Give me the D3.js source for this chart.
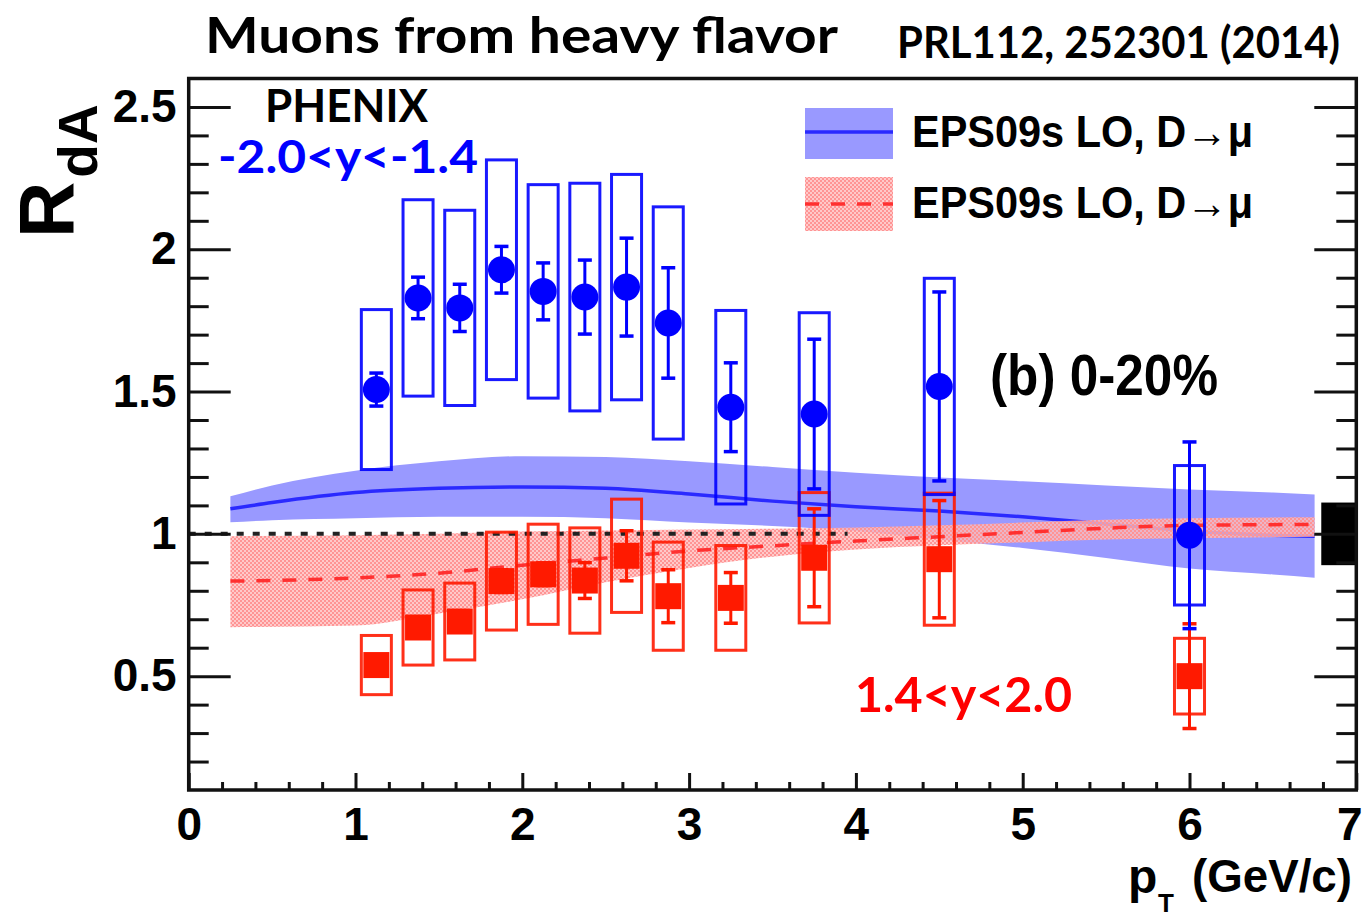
<!DOCTYPE html>
<html>
<head>
<meta charset="utf-8">
<script src="https://cdn.jsdelivr.net/npm/d3@7"></script>
<style>
  html, body { margin: 0; padding: 0; background: #fff; }
  svg { display: block; }
  text { font-family: "Liberation Sans", Arial, sans-serif; font-weight: bold; }
  .geo { font-family: Lato, "Open Sans", sans-serif; font-weight: bold; }
</style>
</head>
<body>
<svg id="chart" width="1365" height="918"></svg>
<script>
// ---------------- DATA ----------------
// Backward rapidity (-2.0<y<-1.4), blue circles
const ptBack   = [1.125, 1.375, 1.625, 1.875, 2.125, 2.375, 2.625, 2.875, 3.25, 3.75, 4.5, 6.0];
const rdaBack  = [1.507, 1.829, 1.794, 1.928, 1.852, 1.832, 1.867, 1.741, 1.445, 1.421, 1.518, 0.995];
const statBack = [0.058, 0.073, 0.083, 0.082, 0.100, 0.130, 0.172, 0.194, 0.156, 0.263, 0.332, 0.328];
const sysBack  = [0.281, 0.345, 0.343, 0.386, 0.375, 0.400, 0.396, 0.408, 0.340, 0.356, 0.380, 0.245];

// Forward rapidity (1.4<y<2.0), red squares
const ptFwd    = [1.125, 1.375, 1.625, 1.875, 2.125, 2.375, 2.625, 2.875, 3.25, 3.75, 4.5, 6.0];
const rdaFwd   = [0.539, 0.671, 0.692, 0.834, 0.858, 0.836, 0.923, 0.781, 0.775, 0.916, 0.911, 0.500];
const statFwd  = [0.030, 0.035, 0.035, 0.040, 0.040, 0.063, 0.088, 0.093, 0.089, 0.172, 0.206, 0.184];
const sysFwd   = [0.104, 0.132, 0.135, 0.172, 0.176, 0.185, 0.199, 0.190, 0.184, 0.229, 0.232, 0.133];

// EPS09s LO theory, backward (blue band)
const thPtBack   = [0.25, 0.5, 1.0, 1.5, 2.0, 2.5, 3.0, 3.5, 4.0, 4.5, 5.0, 5.5, 6.0, 6.5, 6.75];
const thMidBack  = [1.088, 1.110, 1.145, 1.160, 1.165, 1.160, 1.140, 1.115, 1.095, 1.080, 1.060, 1.035, 1.010, 0.995, 0.992];
const thHiBack   = [1.132, 1.170, 1.222, 1.255, 1.273, 1.270, 1.255, 1.235, 1.215, 1.198, 1.185, 1.170, 1.156, 1.145, 1.138];
const thLoBack   = [1.041, 1.048, 1.055, 1.060, 1.060, 1.055, 1.040, 1.028, 1.010, 0.980, 0.950, 0.915, 0.878, 0.857, 0.846];

// EPS09s LO theory, forward (red band)
const thPtFwd    = [0.25, 1.0, 1.5, 2.0, 2.5, 3.0, 3.5, 4.0, 4.5, 5.0, 5.5, 6.0, 6.75];
const thMidFwd   = [0.834, 0.845, 0.862, 0.890, 0.915, 0.940, 0.958, 0.975, 0.990, 1.005, 1.020, 1.030, 1.033];
const thHiFwd    = [0.992, 0.995, 1.000, 1.008, 1.012, 1.015, 1.018, 1.022, 1.030, 1.040, 1.050, 1.055, 1.058];
const thLoFwd    = [0.672, 0.678, 0.720, 0.770, 0.830, 0.880, 0.920, 0.945, 0.960, 0.970, 0.980, 0.985, 0.990];

// global uncertainty box at R=1
const globalUnc = 0.11;
const globalBoxX = [6.79, 7.0];

// axes
const xMajor = [0, 1, 2, 3, 4, 5, 6, 7];
const yMajor = [0.5, 1, 1.5, 2, 2.5];
const xDomain = [0, 7];
const yDomain = [0.1, 2.6];

// ---------------- DRAWING ----------------
const svg = d3.select("#chart");
const x = d3.scaleLinear().domain(xDomain).range([188.7, 1356.3]);
const y = d3.scaleLinear().domain(yDomain).range([790, 78.5]);

const BLUE = "#0000ff", RED = "#ff1a00";

// checker pattern for red band
const defs = svg.append("defs");
const pat = defs.append("pattern").attr("id", "checker").attr("patternUnits", "userSpaceOnUse")
  .attr("width", 4).attr("height", 4);
pat.append("rect").attr("x", 0).attr("y", 0).attr("width", 2).attr("height", 2).attr("fill", "#ff9494");
pat.append("rect").attr("x", 2).attr("y", 2).attr("width", 2).attr("height", 2).attr("fill", "#ff9494");
pat.append("rect").attr("x", 2).attr("y", 0).attr("width", 2).attr("height", 2).attr("fill", "#ffbcbc").attr("opacity", 0.8);
pat.append("rect").attr("x", 0).attr("y", 2).attr("width", 2).attr("height", 2).attr("fill", "#ffbcbc").attr("opacity", 0.8);

const curve = d3.curveMonotoneX;

// blue band
const blueBand = thPtBack.map((p, i) => ({p, lo: thLoBack[i], hi: thHiBack[i], m: thMidBack[i]}));
svg.append("path").datum(blueBand)
  .attr("d", d3.area().curve(curve).x(d => x(d.p)).y0(d => y(d.lo)).y1(d => y(d.hi)))
  .attr("fill", "#9999ff");
svg.append("path").datum(blueBand)
  .attr("d", d3.line().curve(curve).x(d => x(d.p)).y(d => y(d.m)))
  .attr("fill", "none").attr("stroke", "#2a2aff").attr("stroke-width", 3.5);

// red band
const redBand = thPtFwd.map((p, i) => ({p, lo: thLoFwd[i], hi: thHiFwd[i], m: thMidFwd[i]}));
svg.append("path").datum(redBand)
  .attr("d", d3.area().curve(curve).x(d => x(d.p)).y0(d => y(d.lo)).y1(d => y(d.hi)))
  .attr("fill", "url(#checker)");
svg.append("path").datum(redBand)
  .attr("d", d3.line().curve(curve).x(d => x(d.p)).y(d => y(d.m)))
  .attr("fill", "none").attr("stroke", "#ff3030").attr("stroke-width", 3.5)
  .attr("stroke-dasharray", "14,12");

// dotted unity line
svg.append("line")
  .attr("x1", x(0)).attr("x2", x(3.95)).attr("y1", y(1)).attr("y2", y(1))
  .attr("stroke", "#222").attr("stroke-width", 4).attr("stroke-dasharray", "7,9");

// data drawing helper
const boxHalf = 0.09; // in pT units
function drawSeries(pt, val, stat, sys, color, marker) {
  const g = svg.append("g");
  const data = pt.map((p, i) => ({p, v: val[i], st: stat[i], sy: sys[i]}));
  g.selectAll("rect.sys").data(data).join("rect")
    .attr("x", d => x(d.p - boxHalf)).attr("width", d => x(d.p + boxHalf) - x(d.p - boxHalf))
    .attr("y", d => y(d.v + d.sy)).attr("height", d => y(d.v - d.sy) - y(d.v + d.sy))
    .attr("fill", "none").attr("stroke", color).attr("stroke-width", 3).attr("stroke-opacity", 0.9);
  g.selectAll("line.st").data(data).join("line")
    .attr("x1", d => x(d.p)).attr("x2", d => x(d.p))
    .attr("y1", d => y(d.v + d.st)).attr("y2", d => y(d.v - d.st))
    .attr("stroke", color).attr("stroke-width", 3);
  [1, -1].forEach(s => {
    g.append("g").selectAll("line").data(data).join("line")
      .attr("x1", d => x(d.p) - 7).attr("x2", d => x(d.p) + 7)
      .attr("y1", d => y(d.v + s * d.st)).attr("y2", d => y(d.v + s * d.st))
      .attr("stroke", color).attr("stroke-width", 3.5);
  });
  if (marker === "circle") {
    g.selectAll("circle").data(data).join("circle")
      .attr("cx", d => x(d.p)).attr("cy", d => y(d.v)).attr("r", 13.5).attr("fill", color);
  } else {
    g.selectAll("rect.m").data(data).join("rect")
      .attr("x", d => x(d.p) - 13).attr("y", d => y(d.v) - 13)
      .attr("width", 26).attr("height", 26).attr("fill", color);
  }
}
drawSeries(ptFwd, rdaFwd, statFwd, sysFwd, RED, "square");
drawSeries(ptBack, rdaBack, statBack, sysBack, BLUE, "circle");

// global box
svg.append("rect")
  .attr("x", x(globalBoxX[0])).attr("width", x(globalBoxX[1]) - x(globalBoxX[0]))
  .attr("y", y(1 + globalUnc)).attr("height", y(1 - globalUnc) - y(1 + globalUnc))
  .attr("fill", "#000");

// ---------------- AXES ----------------
const yMinor = d3.range(2, 26).map(v => v / 10).filter(v => Math.abs(v * 2 - Math.round(v * 2)) > 1e-6);
const xMinor = d3.range(1, 35).map(v => v / 5).filter(v => Math.abs(v - Math.round(v)) > 1e-6);

function styleAxis(g) {
  g.select(".domain").remove();
  g.selectAll(".tick line").attr("stroke", "#111").attr("stroke-width", 3);
  g.selectAll(".tick text").attr("fill", "#000").attr("font-size", 46)
    .attr("font-family", "'Liberation Sans', Arial, sans-serif").attr("font-weight", "bold");
}

svg.append("g").attr("transform", `translate(${x(0)},0)`)
  .call(d3.axisLeft(y).tickValues(yMajor).tickSizeInner(-42).tickSizeOuter(0).tickPadding(12)
    .tickFormat(d => String(d)))
  .call(styleAxis);
svg.append("g").attr("transform", `translate(${x(0)},0)`)
  .call(d3.axisLeft(y).tickValues(yMinor).tickSize(-20).tickFormat(""))
  .call(styleAxis);
svg.append("g").attr("transform", `translate(${x(7)},0)`)
  .call(d3.axisRight(y).tickValues(yMajor).tickSize(-42).tickFormat(""))
  .call(styleAxis);
svg.append("g").attr("transform", `translate(${x(7)},0)`)
  .call(d3.axisRight(y).tickValues(yMinor).tickSize(-20).tickFormat(""))
  .call(styleAxis);
const xAx = svg.append("g").attr("transform", `translate(0,${y(0.1)})`)
  .call(d3.axisBottom(x).tickValues(xMajor).tickSizeInner(-17).tickSizeOuter(0).tickPadding(17)
    .tickFormat(d3.format("d")))
  .call(styleAxis);
xAx.selectAll(".tick text").filter(d => d === 7).attr("dx", -7);
svg.append("g").attr("transform", `translate(0,${y(0.1)})`)
  .call(d3.axisBottom(x).tickValues(xMinor).tickSize(-8).tickFormat(""))
  .call(styleAxis);

// frame
svg.append("rect")
  .attr("x", x(0)).attr("y", y(2.6)).attr("width", x(7) - x(0)).attr("height", y(0.1) - y(2.6))
  .attr("fill", "none").attr("stroke", "#111").attr("stroke-width", 3.5);

// ---------------- TEXT ----------------
svg.append("text").attr("class", "geo").attr("x", 205).attr("y", 53)
  .attr("font-size", 50).attr("textLength", 633).attr("lengthAdjust", "spacingAndGlyphs")
  .text("Muons from heavy flavor");
svg.append("text").attr("class", "geo").attr("x", 897).attr("y", 58)
  .attr("font-size", 43).attr("textLength", 443).attr("lengthAdjust", "spacingAndGlyphs")
  .text("PRL112, 252301 (2014)");
svg.append("text").attr("class", "geo").attr("x", 265).attr("y", 122)
  .attr("font-size", 45).attr("textLength", 163).attr("lengthAdjust", "spacingAndGlyphs")
  .text("PHENIX");
svg.append("text").attr("class", "geo").attr("x", 218).attr("y", 173)
  .attr("font-size", 46).attr("fill", BLUE).attr("textLength", 260).attr("lengthAdjust", "spacingAndGlyphs")
  .text("-2.0<y<-1.4");
svg.append("text").attr("class", "geo").attr("x", 855).attr("y", 712)
  .attr("font-size", 48).attr("fill", "#ff0000").attr("textLength", 217).attr("lengthAdjust", "spacingAndGlyphs")
  .text("1.4<y<2.0");
svg.append("text").attr("x", 990).attr("y", 395)
  .attr("font-size", 57).attr("textLength", 228).attr("lengthAdjust", "spacingAndGlyphs")
  .text("(b) 0-20%");

// y-axis title R_dA
const yt = svg.append("text").attr("transform", "translate(73,238) rotate(-90)");
yt.append("tspan").attr("font-size", 78).text("R");
yt.append("tspan").attr("font-size", 55).attr("dy", 24).attr("dx", 4).text("dA");

// x-axis title p_T (GeV/c)
svg.append("text").attr("x", 1128).attr("y", 893).attr("font-size", 48).text("p");
svg.append("text").attr("x", 1158).attr("y", 912).attr("font-size", 26).text("T");
svg.append("text").attr("x", 1192).attr("y", 892).attr("font-size", 47)
  .attr("textLength", 160).attr("lengthAdjust", "spacingAndGlyphs").text("(GeV/c)");

// ---------------- LEGEND ----------------
const leg = svg.append("g");
leg.append("rect").attr("x", 805).attr("y", 108).attr("width", 88).attr("height", 51).attr("fill", "#9999ff");
leg.append("line").attr("x1", 805).attr("x2", 893).attr("y1", 132).attr("y2", 132)
  .attr("stroke", "#2a2aff").attr("stroke-width", 3.5);
leg.append("rect").attr("x", 805).attr("y", 177).attr("width", 88).attr("height", 54).attr("fill", "url(#checker)");
leg.append("line").attr("x1", 805).attr("x2", 893).attr("y1", 204).attr("y2", 204)
  .attr("stroke", "#ff3030").attr("stroke-width", 3.5).attr("stroke-dasharray", "14,12");
const legLabels = ["EPS09s LO, D\u2192\u03bc", "EPS09s LO, D\u2192\u03bc"];
leg.selectAll("text.l").data(legLabels).join("text")
  .attr("x", 912).attr("y", (d, i) => 147 + i * 71)
  .attr("font-size", 44).attr("textLength", 341).attr("lengthAdjust", "spacingAndGlyphs")
  .text(d => d);
</script>
</body>
</html>
